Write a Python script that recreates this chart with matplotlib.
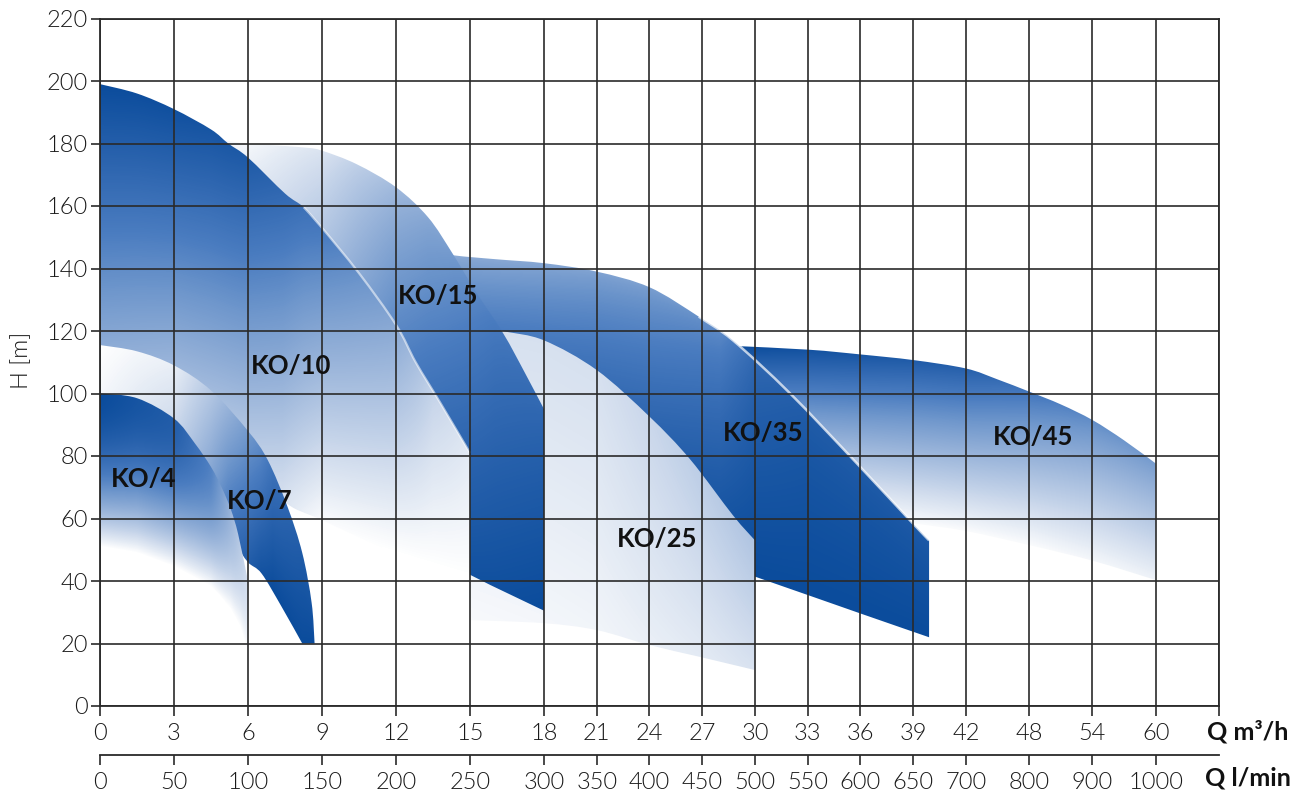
import numpy as np
import matplotlib
matplotlib.use("Agg")
import matplotlib.pyplot as plt
from matplotlib.colors import LinearSegmentedColormap
from matplotlib.path import Path
from matplotlib.patches import PathPatch

plt.rcParams['font.family'] = ['Lato', 'DejaVu Sans']

# axis ticks
q_ticks = [0, 3, 6, 9, 12, 15, 18, 21, 24, 27, 30, 33, 36, 39, 42, 48, 54, 60]
lmin_ticks = [0, 50, 100, 150, 200, 250, 300, 350, 400, 450, 500, 550, 600, 650,
              700, 800, 900, 1000]
h_ticks = list(range(0, 221, 20))

# pump ranges: upper curve (max stages) and lower curve (min stages), Q in m3/h, H in m
ko4_top_q = [0, 1.5, 3, 3.85, 4.5, 4.93, 5.3, 5.6, 6]
ko4_top_h = [100, 98.5, 92, 84, 76.5, 70, 63, 55, 40]
ko4_bot_q = [0, 1.5, 3, 4.5, 5.3, 5.7, 6]
ko4_bot_h = [51, 49, 44.6, 38.2, 31, 25, 17]

ko7_top_q = [0, 1.5, 3, 4.5, 6, 6.8, 7.6, 8.2, 8.58, 8.7]
ko7_top_h = [115.5, 113.5, 109, 101, 88, 78.7, 63.8, 49, 33, 20]
ko7_bot_q = [0, 3, 4.5, 5.2, 5.5, 6, 6.55, 7.36, 8.2]
ko7_bot_h = [72, 68, 62, 58, 52, 46, 42.4, 31.8, 20]

ko10_top_q = [0, 1.5, 3, 4.5, 5.2, 6, 7.5, 8.26, 9, 10.5, 12, 12.8, 13.8, 15]
ko10_top_h = [199, 196, 191, 184.5, 180, 175.5, 164, 159.6, 153, 138.5, 122, 110, 97, 81]
ko10_bot_q = [0, 3, 6, 7.4, 9, 12, 15]
ko10_bot_h = [113, 105, 82, 66, 59.5, 49, 41]

ko15_top_q = [0, 3, 5, 6, 8.3, 9, 10.4, 12, 13.3, 14.3, 15.2, 16.35, 17.2, 18]
ko15_top_h = [184, 183, 181, 180, 178.7, 177.7, 173.4, 166, 156.4, 144.7, 133, 119.2, 107, 95]
ko15_bot_q = [0, 3, 6, 9, 12, 15, 18]
ko15_bot_h = [88, 82, 75, 66, 55, 42, 30.5]

ko25_top_q = [15, 16.35, 18, 21, 24, 26.3, 28.75, 30]
ko25_top_h = [123, 120, 117, 107.5, 92.6, 79, 61, 53]
ko25_bot_q = [15, 18, 21, 24, 26.8, 30]
ko25_bot_h = [27.5, 26.5, 24.3, 19.5, 15.8, 11.5]

ko35_top_q = [12, 14.25, 16, 18, 21, 24, 26.8, 28.75, 32, 35.8, 38.8, 39.9]
ko35_top_h = [147, 144.3, 143, 141.7, 139, 134, 124.6, 117, 100, 77.6, 59.5, 53]
ko35_bot_q = [12, 15, 20, 25, 30, 36, 39.9]
ko35_bot_h = [75, 70, 61, 51, 41.4, 29.6, 22]

ko45_top_q = [28.9, 33.1, 36, 39, 42, 45, 48, 51, 54, 57, 60]
ko45_top_h = [115.2, 114, 112.5, 110.7, 108, 104.5, 100.6, 96.5, 91.5, 85, 77.6]
ko45_bot_q = [28.9, 36, 39, 42, 48, 54, 60]
ko45_bot_h = [66, 61, 58.5, 56, 51.5, 46.5, 40.3]

curves = {
    "KO/45": (ko45_top_q, ko45_top_h, ko45_bot_q, ko45_bot_h),
    "KO/35": (ko35_top_q, ko35_top_h, ko35_bot_q, ko35_bot_h),
    "KO/25": (ko25_top_q, ko25_top_h, ko25_bot_q, ko25_bot_h),
    "KO/15": (ko15_top_q, ko15_top_h, ko15_bot_q, ko15_bot_h),
    "KO/10": (ko10_top_q, ko10_top_h, ko10_bot_q, ko10_bot_h),
    "KO/7": (ko7_top_q, ko7_top_h, ko7_bot_q, ko7_bot_h),
    "KO/4": (ko4_top_q, ko4_top_h, ko4_bot_q, ko4_bot_h),
}

# shading of each band: Q knots, darkness at upper edge, darkness at lower edge, exponent
shade = {
    "KO/45": ([28.9, 36, 42, 48, 54, 60], [1.0, 0.93, 0.86, 0.72, 0.6, 0.52],
              [0.02, 0.02, 0.02, 0.02, 0.04, 0.06], 0.9),
    "KO/35": ([12, 18, 24, 28, 30, 33, 39.9], [0.42, 0.45, 0.5, 0.6, 0.8, 0.88, 0.9],
              [1, 1, 1, 1, 1, 1, 1], 0.7),
    "KO/25": ([15, 21, 27, 30], [0.15, 0.15, 0.25, 0.3], [0.03, 0.05, 0.1, 0.14], 1.0),
    "KO/15": ([0, 6, 9, 12, 14, 16, 18], [0.03, 0.03, 0.13, 0.35, 0.5, 0.68, 0.8],
              [0.3, 0.4, 0.6, 0.9, 0.95, 0.97, 1.0], 0.8),
    "KO/10": ([0, 3, 6, 9, 12, 13.5, 15], [1, 0.97, 0.9, 0.7, 0.45, 0.22, 0.1],
              [0.42, 0.35, 0.25, 0.02, 0, 0, 0], 1.0),
    "KO/7": ([0, 3, 4.5, 5.5, 6.5, 7, 8.7], [0, 0.08, 0.28, 0.45, 0.62, 0.75, 0.95],
             [0.1, 0.3, 0.55, 0.8, 0.95, 1, 1], 1.0),
    "KO/4": ([0, 3, 4.5, 5.5, 6], [1.0, 0.88, 0.65, 0.32, 0.15], [0, 0, 0, 0, 0], 1.8),
}

# label anchors
label_pos = {"KO/4": (1.76, 72.8), "KO/7": (6.49, 65.7), "KO/10": (7.74, 108.9),
             "KO/15": (13.72, 131.3), "KO/25": (24.45, 53.3), "KO/35": (30.44, 87.5),
             "KO/45": (48.4, 86.2)}

cmap = LinearSegmentedColormap.from_list("pump", [
    (0.0, "#ffffff"), (0.1, "#e3eaf4"), (0.25, "#bccde6"), (0.43, "#8eacd6"),
    (0.55, "#6f97cc"), (0.68, "#4a7cc0"), (0.82, "#2e66b0"), (1.0, "#0b4c9c")])

# piecewise axis: 0-18 wide, 18-42 narrower, 42-66 narrowest
q_knots = [0, 18, 42, 66]
u_knots = [0, 18, 35.108, 45.365]


def fwd(q):
    return np.interp(q, q_knots, u_knots)


def inv(u):
    return np.interp(u, u_knots, q_knots)


def fwd_l(l):
    return fwd(np.asarray(l) * 0.06)


def inv_l(u):
    return inv(u) / 0.06


def smooth(q, h):
    # Catmull-Rom through the read points, as cubic Bezier segments
    p = np.column_stack([fwd(np.asarray(q, float)), np.asarray(h, float)])
    pe = np.vstack([p[0], p, p[-1]])
    verts = [p[0]]
    for i in range(len(p) - 1):
        p0, p1, p2, p3 = pe[i], pe[i + 1], pe[i + 2], pe[i + 3]
        verts += [p1 + (p2 - p0) / 6, p2 - (p3 - p1) / 6, p2]
    v = np.array(verts)
    v[:, 0] = inv(v[:, 0])
    return v


def band_path(tq, th, bq, bh):
    vt = smooth(tq, th)
    vb = smooth(bq[::-1], bh[::-1])
    verts = np.vstack([vt, vb, vt[:1]])
    codes = ([Path.MOVETO] + [Path.CURVE4] * (len(vt) - 1) + [Path.LINETO]
             + [Path.CURVE4] * (len(vb) - 1) + [Path.CLOSEPOLY])
    return Path(verts, codes)


def edge_path(q, h):
    v = smooth(q, h)
    return Path(v, [Path.MOVETO] + [Path.CURVE4] * (len(v) - 1))


fig = plt.figure(figsize=(13.15, 7.96), dpi=100)
ax = fig.add_axes([100 / 1315, 1 - 706 / 796, 1119 / 1315, 687.5 / 796])
ax.set_xscale('function', functions=(fwd, inv))
ax.set_xlim(0, 66)
ax.set_ylim(0, 220)

# pixel grid of the axes in data coordinates
nx, ny = 1119, 688
FX, FY = np.meshgrid((np.arange(nx) + 0.5) / nx, (np.arange(ny) + 0.5) / ny)
pts = (ax.transAxes + ax.transData.inverted()).transform(
    np.column_stack([FX.ravel(), FY.ravel()]))
QG = pts[:, 0].reshape(ny, nx)
HG = pts[:, 1].reshape(ny, nx)

for i, (name, (tq, th, bq, bh)) in enumerate(curves.items()):
    sq, st, sb, p = shade[name]
    top = np.interp(QG, tq, th)
    bot = np.interp(QG, bq, bh)
    s = np.clip((top - HG) / np.maximum(top - bot, 1e-6), 0, 1)
    t_top = np.interp(QG, sq, st)
    t_bot = np.interp(QG, sq, sb)
    t = np.clip(t_top + (t_bot - t_top) * s ** p, 0, 1)
    im = ax.imshow(cmap(t), extent=(0, 1, 0, 1), transform=ax.transAxes, origin='lower',
                   aspect='auto', interpolation='nearest', zorder=1 + i * 0.01)
    im.set_clip_path(PathPatch(band_path(tq, th, bq, bh), transform=ax.transData))

# light rims where bands overlap
q10 = np.array(ko10_top_q)
ax.add_patch(PathPatch(edge_path(q10[q10 >= 8], np.array(ko10_top_h)[q10 >= 8]),
                       facecolor='none', edgecolor='white', lw=1.6, alpha=0.55,
                       zorder=1.045))
q35 = np.array(ko35_top_q)
ax.add_patch(PathPatch(edge_path(q35[q35 >= 26], np.array(ko35_top_h)[q35 >= 26]),
                       facecolor='none', edgecolor='white', lw=1.8, alpha=0.7,
                       zorder=1.015))

ax.set_xlim(0, 66)
ax.set_ylim(0, 220)

for name, (qx, hy) in label_pos.items():
    ax.text(qx, hy, name, ha='center', va='center', fontsize=18.5, fontweight='bold',
            color='#111111', zorder=5)

ax.set_xticks(q_ticks + [66])
ax.set_xticklabels([str(v) for v in q_ticks] + [''], fontweight=300)
ax.set_yticks(h_ticks)
ax.set_yticklabels([str(v) for v in h_ticks], fontweight=300)
ax.grid(True, color='#2a2a2a', lw=1.2)
ax.set_axisbelow(False)
for sp in ax.spines.values():
    sp.set_color('#2a2a2a')
    sp.set_linewidth(1.3)
ax.tick_params(axis='x', direction='out', length=7, width=1.2, color='#2a2a2a', pad=5,
               labelsize=17, labelcolor='#1a1a1a')
ax.tick_params(axis='y', direction='out', length=6.5, width=1.2, color='#2a2a2a', pad=2,
               labelsize=17, labelcolor='#1a1a1a')

ax2 = ax.twiny()
ax2.set_xscale('function', functions=(fwd_l, inv_l))
ax2.set_xlim(0, 1100)
ax2.xaxis.set_ticks_position('bottom')
ax2.spines['bottom'].set_position(('outward', 35.3))
for sp in ['top', 'left', 'right']:
    ax2.spines[sp].set_visible(False)
ax2.spines['bottom'].set_color('#2a2a2a')
ax2.spines['bottom'].set_linewidth(1.3)
ax2.set_xticks(lmin_ticks)
ax2.set_xticklabels([str(v) for v in lmin_ticks], fontweight=300)
ax2.tick_params(axis='x', direction='out', length=7, width=1.2, color='#2a2a2a', pad=5,
                labelsize=17, labelcolor='#1a1a1a')

fig.text(1207 / 1315, 1 - 732 / 796, 'Q m³/h', ha='left', va='center', fontsize=18,
         fontweight='bold', color='#111111')
fig.text(1205 / 1315, 1 - 778 / 796, 'Q l/min', ha='left', va='center', fontsize=18,
         fontweight='bold', color='#111111')
fig.text(22 / 1315, 1 - 360 / 796, 'H [m]', rotation=90, ha='center', va='center',
         fontsize=17, fontweight=300, color='#1a1a1a')

fig.savefig('out.png', dpi=100)
